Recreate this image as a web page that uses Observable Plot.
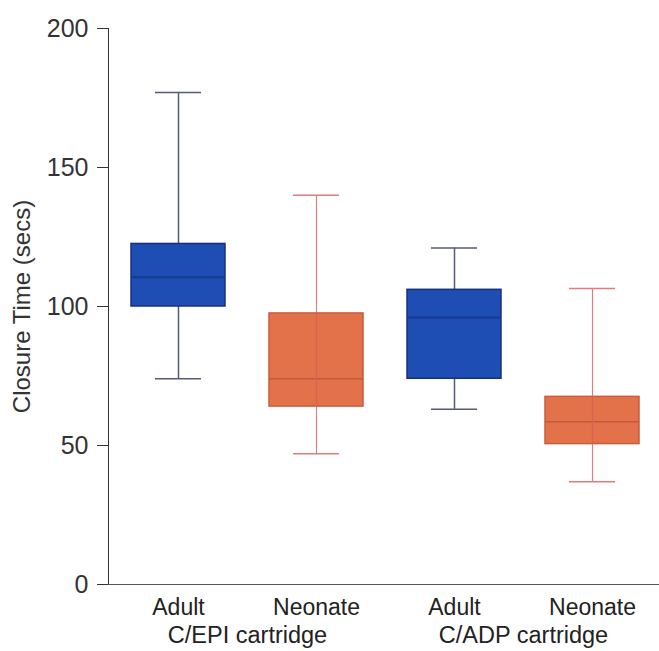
<!DOCTYPE html>
<html>
<head>
<meta charset="utf-8">
<script src="https://cdn.jsdelivr.net/npm/d3@7"></script>
<script src="https://cdn.jsdelivr.net/npm/@observablehq/plot@0.6"></script>
<style>
  html, body { margin: 0; padding: 0; background: #fff; }
  #chart svg { display: block; }
</style>
</head>
<body>
<div id="chart"></div>
<script>
// ---- data ----
const groups = ["Adult", "Neonate", "Adult", "Neonate"];
const cartridges = ["C/EPI cartridge", "C/EPI cartridge", "C/ADP cartridge", "C/ADP cartridge"];
const whiskerLow = [74, 47, 63, 37];
const q1 = [100, 64, 74, 50.5];
const median = [110.5, 74, 96, 58.5];
const q3 = [122.5, 97.5, 106, 67.5];
const whiskerHigh = [177, 140, 121, 106.5];
const yTicks = [0, 50, 100, 150, 200];
const yLabel = "Closure Time (secs)";

const data = groups.map((g, i) => ({
  id: String(i), group: g, cartridge: cartridges[i],
  low: whiskerLow[i], q1: q1[i], median: median[i], q3: q3[i], high: whiskerHigh[i]
}));
const adult = data.filter(d => d.group === "Adult");
const neonate = data.filter(d => d.group === "Neonate");
const cartLabels = data.filter((d, i) => i === 0 || cartridges[i - 1] !== d.cartridge);

const font = "'Liberation Sans', Arial, Helvetica, sans-serif";

const chart = Plot.plot({
  width: 659,
  height: 651,
  marginLeft: 108,
  marginRight: -2,
  marginTop: 28,
  marginBottom: 67,
  style: { fontFamily: font, fontSize: "25px", color: "#333", background: "#fff" },
  x: {
    domain: data.map(d => d.id),
    padding: 0,
    label: null
  },
  y: {
    domain: [0, 200],
    ticks: yTicks,
    tickSize: 11,
    tickPadding: 9,
    line: true,
    label: null
  },
  marks: [
    Plot.axisX({ tickSize: 0, tickPadding: 14, fontSize: 23, fill: "#222", tickFormat: i => groups[+i], label: null }),
    Plot.ruleY([0], { stroke: "#555" }),
    // adult whiskers
    Plot.ruleX(adult, { x: "id", y1: "q3", y2: "high", stroke: "#55597c", strokeWidth: 1.5 }),
    Plot.ruleX(adult, { x: "id", y1: "low", y2: "q1", stroke: "#55597c", strokeWidth: 1.5 }),
    Plot.tickY(adult, { x: "id", y: "high", stroke: "#55597c", strokeWidth: 1.5, inset: 46 }),
    Plot.tickY(adult, { x: "id", y: "low", stroke: "#55597c", strokeWidth: 1.5, inset: 46 }),
    // adult boxes
    Plot.barY(adult, { x: "id", y1: "q1", y2: "q3", fill: "#1e4db4", stroke: "#1a307c", strokeWidth: 1.5, insetLeft: 22, insetRight: 22 }),
    Plot.tickY(adult, { x: "id", y: "median", stroke: "#163a8c", strokeWidth: 2, inset: 22 }),
    // neonate boxes
    Plot.barY(neonate, { x: "id", y1: "q1", y2: "q3", fill: "#e3714a", stroke: "#c95d3e", strokeWidth: 1.5, insetLeft: 22, insetRight: 22 }),
    Plot.tickY(neonate, { x: "id", y: "median", stroke: "#c25a3d", strokeWidth: 1.5, inset: 22 }),
    // neonate whiskers (drawn through the box)
    Plot.ruleX(neonate, { x: "id", y1: "low", y2: "high", stroke: "#d2605c", strokeWidth: 1.2, strokeOpacity: 0.8 }),
    Plot.tickY(neonate, { x: "id", y: "high", stroke: "#e27c7c", strokeWidth: 1.5, inset: 46 }),
    Plot.tickY(neonate, { x: "id", y: "low", stroke: "#e27c7c", strokeWidth: 1.5, inset: 46 }),
    // cartridge labels (second row under the x axis)
    Plot.text(cartLabels, { x: "id", y: 0, text: "cartridge", dx: 69, dy: 42, lineAnchor: "top", fontSize: 23.5, fill: "#222" }),
    // y axis title
    Plot.text([yLabel], { frameAnchor: "left", textAnchor: "middle", dx: -86, rotate: -90, fontSize: 24, fill: "#333" })
  ]
});

document.getElementById("chart").appendChild(chart);
</script>
</body>
</html>
